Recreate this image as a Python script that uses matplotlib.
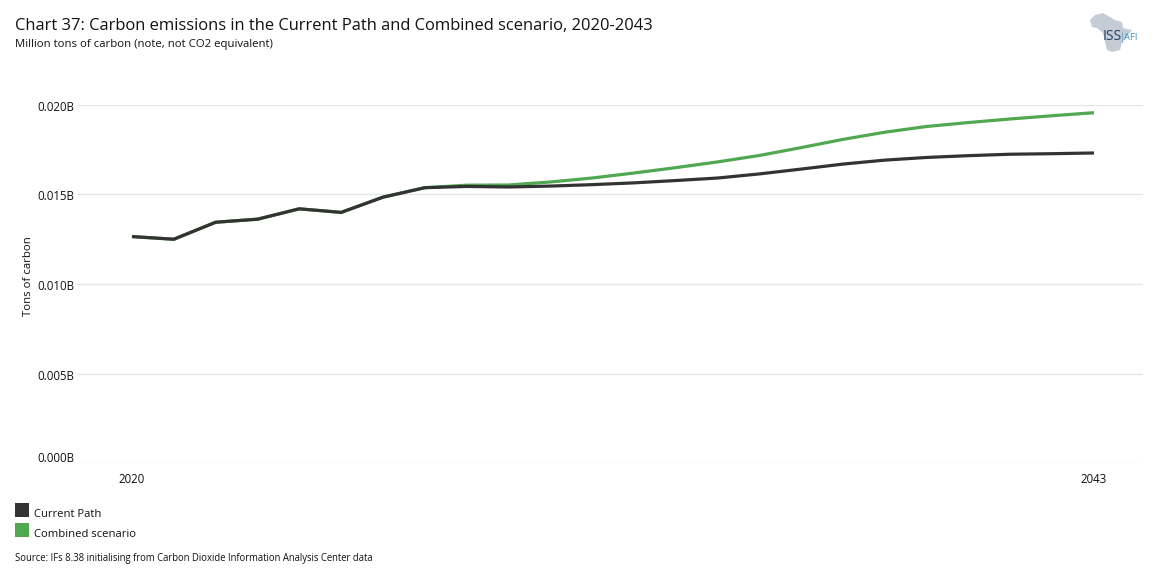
import matplotlib
matplotlib.use('Agg')
import matplotlib.pyplot as plt
from matplotlib.patches import Polygon, Rectangle
from matplotlib.transforms import ScaledTranslation

plt.rcParams['font.family'] = ['Open Sans', 'DejaVu Sans']

W, H = 1154, 583

years = list(range(2020, 2044))
current_path = [0.01265, 0.01250, 0.01345, 0.01362, 0.01420, 0.01400, 0.01485, 0.01538,
                0.01545, 0.01542, 0.01547, 0.01555, 0.01565, 0.01578, 0.01592, 0.01615,
                0.01642, 0.01670, 0.01692, 0.01707, 0.01717, 0.01725, 0.01728, 0.01732]
combined = [0.01265, 0.01250, 0.01345, 0.01362, 0.01420, 0.01400, 0.01485, 0.01538,
            0.01552, 0.01553, 0.01570, 0.01592, 0.01620, 0.01650, 0.01682, 0.01718,
            0.01762, 0.01808, 0.01848, 0.01880, 0.01902, 0.01922, 0.01940, 0.01957]
y_ticks = [0.0, 0.005, 0.010, 0.015, 0.020]
y_labels = ['0.000B', '0.005B', '0.010B', '0.015B', '0.020B']
x_ticks = [2020, 2043]

GREY = '#333333'
GREEN = '#50a850'

fig = plt.figure(figsize=(W / 100, H / 100), dpi=100)

# axes box in pixels: left 77, right 1143, top 105 (0.020), bottom 463 (0)
ax = fig.add_axes([77 / W, 1 - 463 / H, (1143 - 77) / W, (463 - 105) / H])
ax.set_ylim(0, 0.020)
# 2020 at x=132, 2043 at x=1094
per_year = (1094 - 132) / 23
ax.set_xlim(2020 - (132 - 77) / per_year, 2043 + (1143 - 1094) / per_year)

ax.plot(years, combined, color=GREEN, lw=2.3, solid_capstyle='butt', clip_on=False)
ax.plot(years, current_path, color=GREY, lw=2.3, solid_capstyle='butt', clip_on=False)

ax.set_yticks(y_ticks)
ax.set_yticklabels(y_labels, fontsize=8.3, color='#111111', va='center')
ax.set_xticks(x_ticks)
ax.set_xticklabels([str(t) for t in x_ticks], fontsize=8.3, color='#111111')
ax.tick_params(axis='y', length=0, pad=2)
ax.tick_params(axis='x', length=0, pad=7)

# the value labels sit just under their gridline, the zero label above it
y_shifts = [4.5, -2.5, -2.5, -2.5, -2.5]
for lab, shift in zip(ax.get_yticklabels(), y_shifts):
    lab.set_transform(lab.get_transform() + ScaledTranslation(0, shift / 100, fig.dpi_scale_trans))
for lab in ax.get_xticklabels():
    lab.set_transform(lab.get_transform() + ScaledTranslation(-0.5 / 100, 0, fig.dpi_scale_trans))

ax.grid(axis='y', color='#e6e6e6', lw=0.9)
ax.set_axisbelow(True)
for s in ax.spines.values():
    s.set_visible(False)


def px_text(x, y, s, **kw):
    fig.text(x / W, 1 - y / H, s, va='center', **kw)


px_text(15, 26.5, 'Chart 37: Carbon emissions in the Current Path and Combined scenario, 2020-2043',
        fontsize=11.93, color='#111111')
px_text(15, 44, 'Million tons of carbon (note, not CO2 equivalent)', fontsize=8.22, color='#111111')
fig.text(29 / W, 1 - 276 / H, 'Tons of carbon', rotation=90, va='center', ha='center',
         fontsize=8.2, color='#111111')

# legend
for y0, c, name in [(503, GREY, 'Current Path'), (523, GREEN, 'Combined scenario')]:
    fig.add_artist(Rectangle((15 / W, 1 - (y0 + 14) / H), 14 / W, 14 / H,
                             transform=fig.transFigure, color=c, lw=0))
    px_text(34, y0 + 11.5, name, fontsize=8.1, color='#111111')

px_text(15, 558.5, 'Source: IFs 8.38 initialising from Carbon Dioxide Information Analysis Center data',
        fontsize=6.86, color='#111111')

# logo: rough Africa outline
africa = [(1090, 20), (1095, 15), (1103, 13), (1110, 17), (1115, 20), (1122, 22), (1123, 28),
          (1132, 30), (1126, 38), (1122, 42), (1120, 50), (1112, 52), (1107, 50), (1105, 42),
          (1103, 33), (1097, 28), (1092, 27)]
fig.add_artist(Polygon([(x / W, 1 - y / H) for x, y in africa], transform=fig.transFigure,
                       color='#c5ccd6', lw=0))
px_text(1103, 37, 'ISS', fontsize=10, color='#1f3f60')
px_text(1124, 37, 'AFI', fontsize=6.8, color='#4a90c0')
fig.add_artist(Rectangle((1122 / W, 1 - 43 / H), 0.7 / W, 11 / H, transform=fig.transFigure,
                         color='#7fb0d0', lw=0))

fig.savefig('out.png', dpi=100)
